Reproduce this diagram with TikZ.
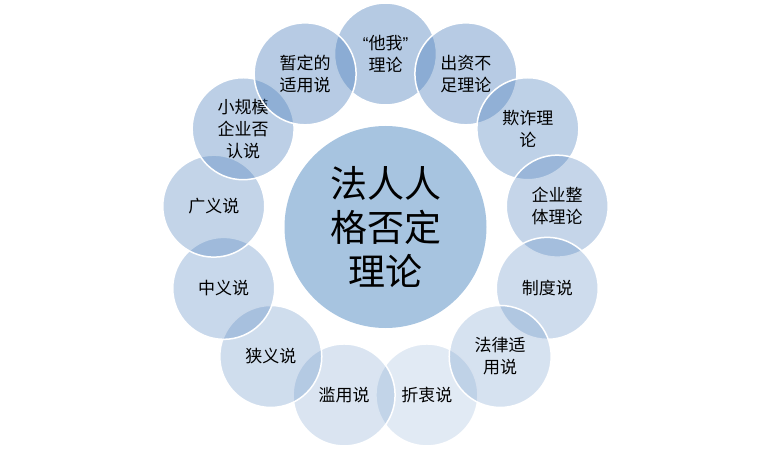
\documentclass[tikz,border=0pt]{standalone}
\usepackage{fontspec}
\setmainfont{Noto Sans CJK SC}
\newfontfamily\latq{Liberation Sans}
\definecolor{acc}{RGB}{79,129,189}
\definecolor{hubblue}{RGB}{167,196,224}
\begin{document}
\begin{tikzpicture}[x=1pt,y=1pt,
  outer/.style={circle, minimum size=102pt, inner sep=0pt, fill=acc, draw=white,
    line width=1.5pt, draw opacity=1, text opacity=1, text=black, align=center,
    font=\fontsize{17}{22}\selectfont},
  hub/.style={circle, minimum size=202pt, inner sep=0pt, fill=hubblue, text=black,
    align=center, font=\fontsize{37}{44}\selectfont}]
\useasboundingbox (0,0) rectangle (772,448);
\coordinate (c) at (385.5,221);
\node[hub] (hubnode) at (c) {法人人\\格否定\\理论};
\node[outer, fill opacity=0.42] (k0) at ([shift={(90:173)}]c) {{\latq “}他我{\latq ”}\\理论};
\node[outer, fill opacity=0.17] (k6) at ([shift={(-76.154:173)}]c) {折衷说};
\node[outer, fill opacity=0.41] (k1) at ([shift={(62.308:173)}]c) {出资不\\足理论};
\node[outer, fill opacity=0.37] (k2) at ([shift={(34.615:173)}]c) {欺诈理\\论};
\node[outer, fill opacity=0.33] (k3) at ([shift={(6.923:173)}]c) {企业整\\体理论};
\node[outer, fill opacity=0.28] (k4) at ([shift={(-20.769:173)}]c) {制度说};
\node[outer, fill opacity=0.23] (k5) at ([shift={(-48.462:173)}]c) {法律适\\用说};
\node[outer, fill opacity=0.21] (k7) at ([shift={(-103.846:173)}]c) {滥用说};
\node[outer, fill opacity=0.27] (k8) at ([shift={(-131.538:173)}]c) {狭义说};
\node[outer, fill opacity=0.31] (k9) at ([shift={(-159.231:173)}]c) {中义说};
\node[outer, fill opacity=0.34] (k10) at ([shift={(173.077:173)}]c) {广义说};
\node[outer, fill opacity=0.38] (k11) at ([shift={(145.385:173)}]c) {小规模\\企业否\\认说};
\node[outer, fill opacity=0.41] (k12) at ([shift={(117.692:173)}]c) {暂定的\\适用说};
\end{tikzpicture}
\end{document}
